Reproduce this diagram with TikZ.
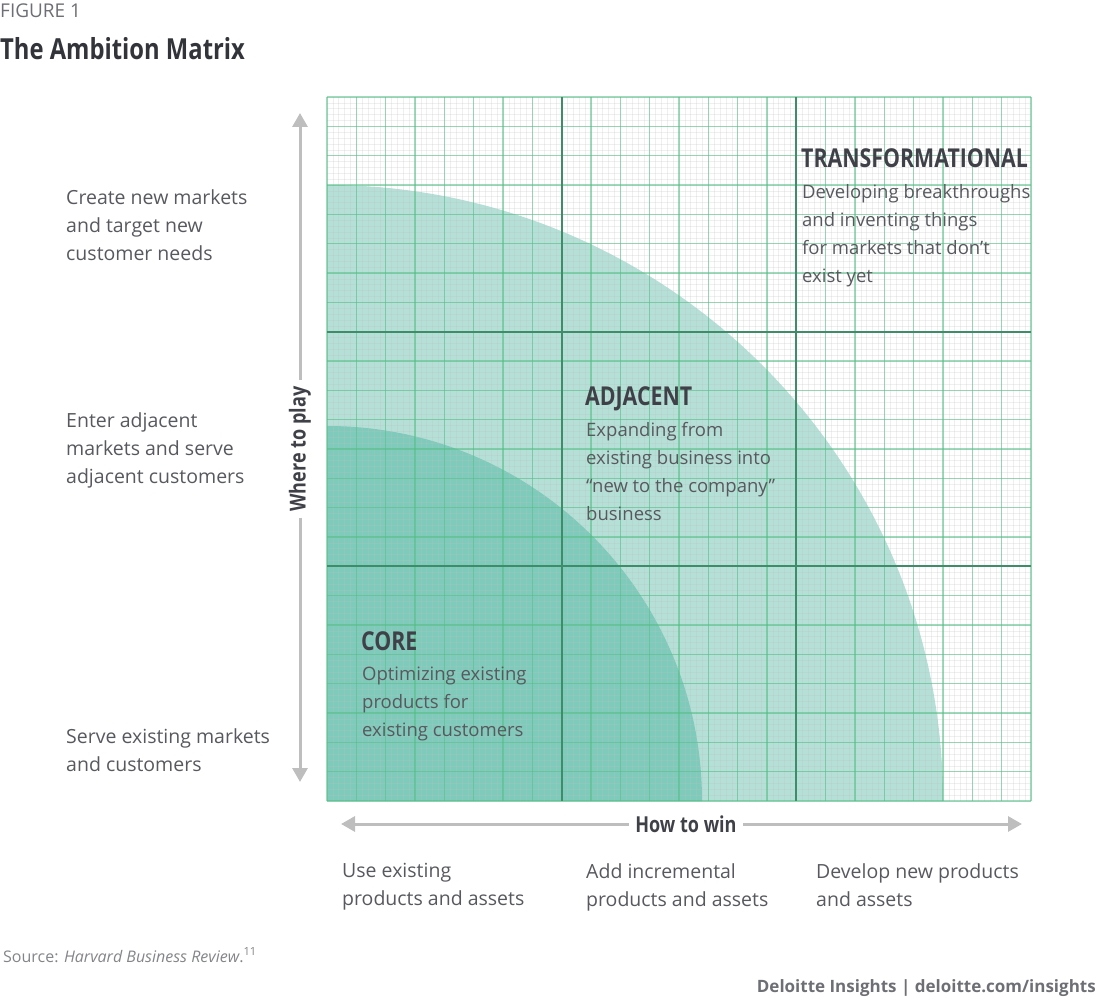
\documentclass[tikz,border=0pt]{standalone}
\usepackage{fontspec}
\setmainfont{Open Sans}
\newfontfamily\headfont{Open Sans}[FakeStretch=0.82]
\usetikzlibrary{arrows.meta}
\definecolor{txtgray}{RGB}{88,89,94}
\definecolor{headgray}{RGB}{64,65,72}
\definecolor{figgray}{RGB}{110,111,116}
\definecolor{bigfill}{RGB}{181,224,216}
\definecolor{smallfill}{RGB}{126,202,187}
\definecolor{gridgreen}{RGB}{80,190,130}
\definecolor{thirdgreen}{RGB}{62,140,104}
\definecolor{arrowgray}{RGB}{190,190,190}
\tikzset{
  sidelabel/.style={anchor=north west,inner sep=0pt,align=left,text=txtgray,
                    font=\fontsize{19.5}{28}\selectfont},
  fieldtext/.style={sidelabel,font=\fontsize{18.5}{28}\selectfont},
  fieldhead/.style={anchor=base west,inner sep=0pt,text=headgray,
                    font=\headfont\bfseries\fontsize{26}{30}\selectfont},
  axislabel/.style={inner sep=6pt,text=headgray,font=\headfont\bfseries\fontsize{22}{26}\selectfont},
  axisarrow/.style={draw=arrowgray,line width=3pt,-{Triangle[length=14pt,width=15pt]}},
  finegrid/.style={draw=gray!50,line width=0.5pt,opacity=0.25},
  maingrid/.style={draw=gridgreen,line width=1.1pt,opacity=0.55},
  thirdline/.style={draw=thirdgreen,line width=2pt},
}
\begin{document}
\begin{tikzpicture}[x=1pt,y=-1pt]
  \useasboundingbox (0,0) rectangle (1096,1000);
  % header
  \node[anchor=base west,inner sep=0pt,text=figgray,font=\fontsize{19}{22}\selectfont] (fig) at (0,18) {FIGURE 1};
  \node[anchor=base west,inner sep=0pt,text=headgray!80!black,font=\headfont\bfseries\fontsize{29}{34}\selectfont]
    (title) at (0,60) {The Ambition Matrix};

  % ambition fields
  \fill[bigfill] (327,801) -- (327,185) arc[start angle=90,end angle=0,radius=616pt] -- cycle;
  \fill[smallfill] (327,801) -- (327,426) arc[start angle=90,end angle=0,radius=375pt] -- cycle;

  % grid paper
  \foreach \i in {0,...,120} {
    \draw[finegrid] ({327+\i*5.86667},97) -- ++(0,704);
    \draw[finegrid] (327,{97+\i*5.86667}) -- ++(704,0);
  }
  \foreach \i in {0,...,24} {
    \draw[maingrid] ({327+\i*29.3333},97) -- ++(0,704);
    \draw[maingrid] (327,{97+\i*29.3333}) -- ++(704,0);
  }
  \foreach \i in {1,2} {
    \draw[thirdline] ({327+\i*234.667},97) -- ++(0,704);
    \draw[thirdline] (327,{97+\i*234.667}) -- ++(704,0);
  }

  % axes
  \node[axislabel,rotate=90] (play) at (300,449) {Where to play};
  \coordinate (ytop) at (300,113);
  \coordinate (ybot) at (300,782);
  \draw[axisarrow] (play.east) -- (ytop);
  \draw[axisarrow] (play.west) -- (ybot);
  \node[axislabel] (win) at (686,824) {How to win};
  \coordinate (xleft) at (341,824);
  \coordinate (xright) at (1022,824);
  \draw[axisarrow] (win.west) -- (xleft);
  \draw[axisarrow] (win.east) -- (xright);

  % where to play
  \node[sidelabel] (newmkt) at (66,189) {Create new markets\\and target new\\customer needs};
  \node[sidelabel] (adjmkt) at (66,412) {Enter adjacent\\markets and serve\\adjacent customers};
  \node[sidelabel] (oldmkt) at (66,728) {Serve existing markets\\and customers};

  % how to win
  \node[sidelabel] (useold) at (342,863) {Use existing\\products and assets};
  \node[sidelabel] (addinc) at (586,863) {Add incremental\\products and assets};
  \node[sidelabel] (devnew) at (816,863) {Develop new products\\and assets};

  % fields
  \node[fieldhead] (trans) at (801,168) {TRANSFORMATIONAL};
  \node[fieldtext] (transtxt) at (802,184) {Developing breakthroughs\\and inventing things\\for markets that don’t\\exist yet};
  \node[fieldhead] (adj) at (585,406) {ADJACENT};
  \node[fieldtext] (adjtxt) at (586,422) {Expanding from\\existing business into\\“new to the company”\\business};
  \node[fieldhead] (core) at (361,650) {CORE};
  \node[fieldtext] (coretxt) at (362,667) {Optimizing existing\\products for\\existing customers};

  % footer
  \node[anchor=base west,inner sep=0pt,text=figgray!85,font=\fontsize{16}{18}\selectfont] (src) at (3,962)
    {Source: \textit{Harvard Business Review}.\textsuperscript{11}};
  \node[anchor=base east,inner sep=0pt,text=figgray,font=\bfseries\fontsize{17}{20}\selectfont] (brand) at (1096,992)
    {Deloitte Insights | deloitte.com/insights};
\end{tikzpicture}
\end{document}
